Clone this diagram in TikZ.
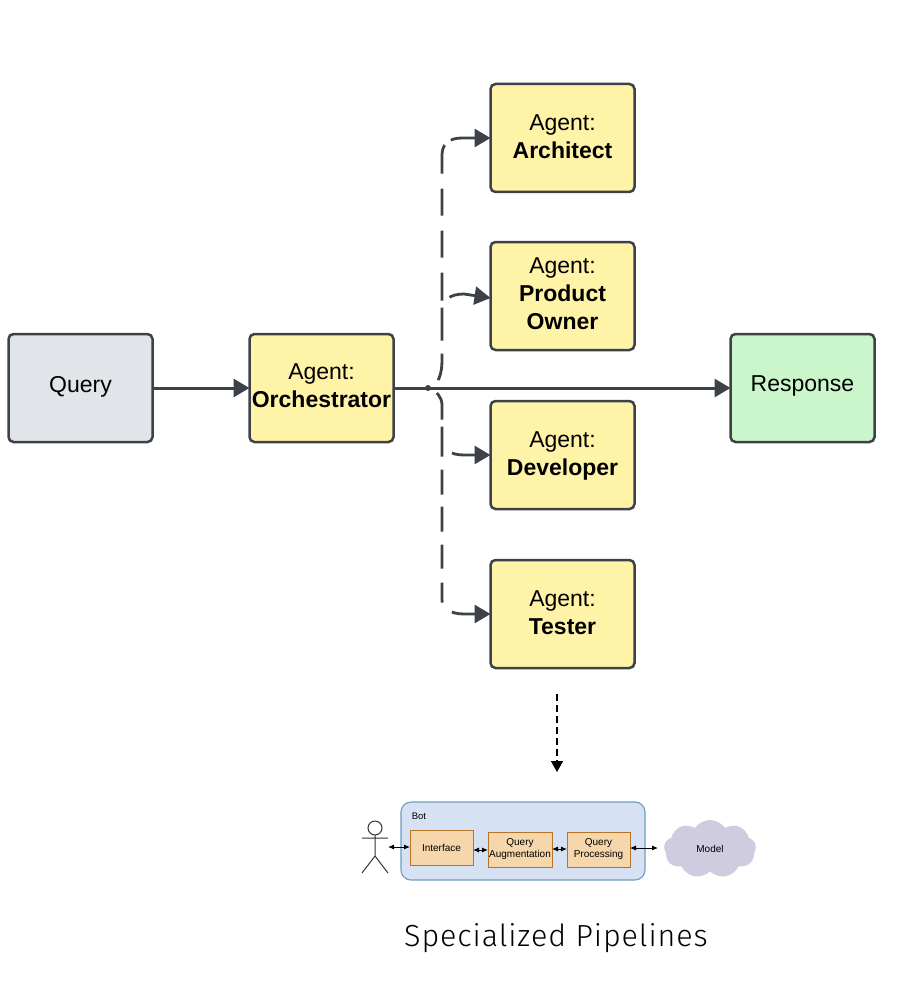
\documentclass[tikz,border=0pt]{standalone}
\usepackage{fontspec}
\setmainfont{Liberation Sans}
\newfontfamily\capfont[LetterSpace=3]{Fira Sans Light}
\usetikzlibrary{arrows.meta,shapes.symbols}
\definecolor{ink}{HTML}{3D4248}
\definecolor{agentfill}{HTML}{FFF3A8}
\definecolor{queryfill}{HTML}{E1E4E8}
\definecolor{respfill}{HTML}{CBF5CB}
\definecolor{botfill}{HTML}{D6E2F3}
\definecolor{botline}{HTML}{6C9EBF}
\definecolor{stepfill}{HTML}{F6D6AB}
\definecolor{stepline}{HTML}{B4752B}
\definecolor{cloudfill}{HTML}{CFCCE0}
\tikzset{
  bigbox/.style={draw=ink,line width=2.5pt,rounded corners=5pt,minimum width=144pt,minimum height=108pt,inner sep=0pt,outer sep=0pt,align=center,font=\fontsize{23}{28}\selectfont,text depth=4pt},
  agentbox/.style={bigbox,fill=agentfill},
  conn/.style={draw=ink,line width=2.8pt,-{Triangle[length=16pt,width=18pt]}},
  mainconn/.style={conn,line width=3pt},
  smallbox/.style={draw=stepline,line width=1pt,fill=stepfill,inner sep=0pt,outer sep=0pt,align=center,font=\fontsize{10}{12}\selectfont},
  tiny/.style={line width=.9pt,black,{Latex[length=6pt,width=5pt]}-{Latex[length=6pt,width=5pt]}},
}
\begin{document}
\begin{tikzpicture}[x=1pt,y=-1pt]
\useasboundingbox[fill=white] (0,0) rectangle (896,1000);
\node[bigbox,fill=queryfill,text depth=8pt] (query) at (80.5,388) {Query};
\node[agentbox] (orch) at (321.5,388) {Agent:\\\textbf{Orchestrator}};
\node[agentbox,text depth=2pt] (arch) at (562.5,138) {Agent:\\\textbf{Architect}};
\node[agentbox] (po) at (562.5,296) {Agent:\\\textbf{Product}\\\textbf{Owner}};
\node[agentbox,text depth=2pt] (dev) at (562.5,455) {Agent:\\\textbf{Developer}};
\node[agentbox,text depth=2pt] (test) at (562.5,614) {Agent:\\\textbf{Tester}};
\node[bigbox,fill=respfill,text depth=8pt] (resp) at (802.5,388) {Response};
\node[circle,fill=ink,inner sep=0pt,minimum size=6pt] (j) at (428,388) {};
\draw[mainconn] (query.east) -- (orch.west);
\draw[mainconn] (orch.east) -- (resp.west);
\draw[conn,dash pattern=on 0pt off 10pt on 27pt off 13pt on 33pt off 7pt on 28pt off 15pt on 27pt off 15pt on 27pt off 15pt on 29pt off 8pt on 200pt]
  (j) .. controls (438,384) and (442,375) .. (442,360) -- (442,155) .. controls (442,145) and (448,138) .. (462,138) -- (arch.west);
\draw[conn,dash pattern=on 0pt off 96pt on 200pt]
  (j) .. controls (438,384) and (442,375) .. (442,360) -- (442,312) .. controls (442,300) and (450,294) .. (464,294) -- ([yshift=-2pt]po.west);
\draw[conn,dash pattern=on 0pt off 73pt on 200pt]
  (j) .. controls (436,391) and (442,397) .. (442,405) -- (442,440) .. controls (442,449) and (450,455) .. (464,455) -- (dev.west);
\draw[conn,dash pattern=on 0pt off 7pt on 28pt off 7pt on 30pt off 13pt on 25pt off 12pt on 25pt off 13pt on 24pt off 14pt on 20pt off 14pt on 200pt]
  (j) .. controls (436,391) and (442,397) .. (442,405) -- (442,600) .. controls (442,608) and (450,614) .. (464,614) -- (test.west);
\coordinate (dashtop) at (557,694);
\coordinate (dashend) at (557,772);
\draw[line width=1.5pt,black,dash pattern=on 7pt off 4pt,-{Triangle[length=11pt,width=12pt]}] (dashtop) -- (dashend);
% small pipeline
\node[draw=botline,line width=1.1pt,fill=botfill,rounded corners=10pt,minimum width=244pt,minimum height=78pt,inner sep=0pt,outer sep=0pt] (bot) at (523,841) {};
\node[font=\fontsize{9.5}{11}\selectfont,inner sep=0pt] (botlabel) at (419,816) {Bot};
\node[smallbox,minimum width=63pt,minimum height=35pt] (iface) at (441.5,847.5) {Interface};
\node[smallbox,minimum width=64pt,minimum height=35pt] (aug) at (520,849.5) {Query\\Augmentation};
\node[smallbox,minimum width=63pt,minimum height=35pt] (proc) at (598.5,849.5) {Query\\Processing};
\node[shape=cloud,cloud puffs=9,cloud puff arc=110,aspect=1.6,fill=cloudfill,minimum width=92pt,minimum height=58pt,inner sep=0pt,outer sep=0pt,font=\fontsize{10}{12}\selectfont] (model) at (710,849) {Model};
% actor
\node[circle,draw=black!80,line width=1pt,minimum size=14pt,inner sep=0pt,outer sep=0pt] (head) at (375,828) {};
\coordinate (hip) at (375,856);
\coordinate (actor) at (388,847);
\coordinate (modelin) at (658,848);
\draw[black!80,line width=1pt] (head.south) -- (hip) -- (362,873) (hip) -- (388,873) (362,838) -- (388,838);
\draw[tiny] (actor) -- (iface.west|-actor);
\draw[tiny] (iface.east|-0,850) -- (aug.west|-0,850);
\draw[tiny] (aug.east|-0,849) -- (proc.west|-0,849);
\draw[tiny] (proc.east|-modelin) -- (modelin);
\node[font=\fontsize{30.5}{36}\selectfont\capfont,inner sep=0pt] (caption) at (556,938) {Specialized Pipelines};
\end{tikzpicture}
\end{document}
